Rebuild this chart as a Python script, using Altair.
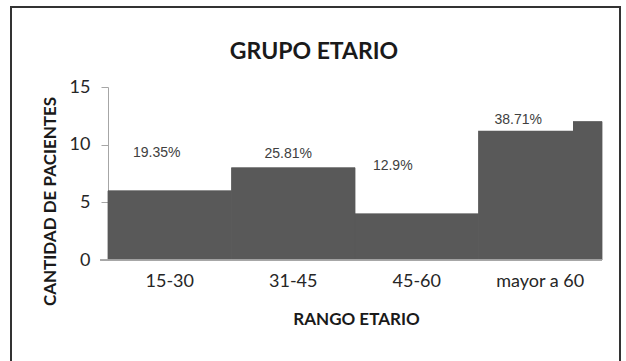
import altair as alt
import pandas as pd

categories = ["15-30", "31-45", "45-60", "mayor a 60"]
values = [6, 8, 4, 12]
pct_labels = ["19.35%", "25.81%", "12.9%", "38.71%"]
y_ticks = [0, 5, 10, 15]
box_bottom = 11.2  # white label background cutting into the last bar
box_top = 12.85

df = pd.DataFrame({"rango": categories, "pacientes": values, "pct": pct_labels})

W, H = 494, 173
FONT = "Lato"

x_enc = alt.X(
    "rango:N",
    sort=categories,
    scale=alt.Scale(paddingInner=0, paddingOuter=0),
    axis=alt.Axis(
        title="RANGO ETARIO",
        labelAngle=0,
        ticks=False,
        domain=False,
        labelPadding=12,
        labelFont=FONT,
        labelFontSize=18,
        labelColor="#262626",
        titleFont=FONT,
        titleFontSize=17,
        titleFontWeight="bold",
        titleColor="#1a1a1a",
        titleX=248,
        titleY=59,
        titleBaseline="middle",
    ),
)
y_scale = alt.Scale(domain=[0, 15])
y_enc = alt.Y(
    "pacientes:Q",
    scale=y_scale,
    axis=alt.Axis(
        title="CANTIDAD DE PACIENTES",
        values=y_ticks,
        grid=False,
        domainColor="#a6a6a6",
        tickColor="#a6a6a6",
        tickSize=7,
        labelPadding=11,
        labelFont=FONT,
        labelFontSize=18,
        labelColor="#262626",
        titleFont=FONT,
        titleFontSize=17,
        titleFontWeight="bold",
        titleColor="#1a1a1a",
        titleX=-58,
        titleY=114,
        titleAlign="center",
        titleBaseline="middle",
        titleAngle=-90,
    ),
)

base = alt.Chart(df)

bars = base.mark_bar(color="#595959", stroke="#595959", strokeWidth=0.8).encode(x=x_enc, y=y_enc)

baseline = base.mark_rule(color="#a6a6a6", strokeWidth=1).encode(
    x=alt.value(-8), x2=alt.value(W), y=alt.value(H)
)

box = base.transform_filter(alt.datum.rango == "mayor a 60").mark_rect(color="white").encode(
    x=alt.value(370),
    x2=alt.value(465),
    y=alt.datum(box_top, scale=y_scale),
    y2=alt.datum(box_bottom),
)

offsets = {
    "15-30": (-13, -38),
    "31-45": (-5, -14),
    "45-60": (-24, -48),
    "mayor a 60": (-22, -2),
}
label_layers = []
for cat, (dx, dy) in offsets.items():
    label_layers.append(
        base.transform_filter(alt.datum.rango == cat)
        .mark_text(
            dx=dx,
            dy=dy,
            font="Liberation Sans",
            fontSize=14,
            color="#404040",
            align="center",
            baseline="middle",
        )
        .encode(x=alt.X("rango:N", sort=categories), y=alt.Y("pacientes:Q", scale=y_scale), text="pct:N")
    )

title = alt.Chart(pd.DataFrame({"t": ["GRUPO ETARIO"]})).mark_text(
    font=FONT, fontSize=23, fontWeight="bold", color="#1a1a1a", align="center", baseline="middle"
).encode(x=alt.value(206), y=alt.value(-35), text="t:N")

border = alt.Chart(pd.DataFrame({"b": [0]})).mark_rect(
    fill=None, fillOpacity=0, stroke="#333333", strokeWidth=2
).encode(x=alt.value(-97), x2=alt.value(512), y=alt.value(-80), y2=alt.value(300))

chart = alt.layer(bars, baseline, box, *label_layers, title, border).properties(
    width=W,
    height=H,
    autosize=alt.AutoSizeParams(type="none"),
    padding={"left": 108, "top": 87, "right": 24, "bottom": 101},
    background="white",
).configure_view(stroke=None)

chart.save("out.html", embed_options={"renderer": "svg", "actions": False})
